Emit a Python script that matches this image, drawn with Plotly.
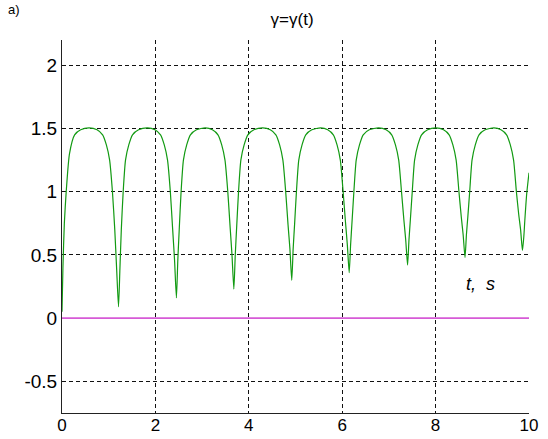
import plotly.graph_objects as go

# time, s
t = [0.00, 0.02, 0.05, 0.09, 0.16, 0.27, 0.40, 0.58,
     0.75, 0.87, 0.95, 1.02, 1.08, 1.13, 1.17, 1.21, 1.24, 1.27, 1.31, 1.36, 1.43, 1.51, 1.64, 1.83,
     1.99, 2.11, 2.19, 2.26, 2.32, 2.37, 2.41, 2.45, 2.48, 2.51, 2.55, 2.60, 2.67, 2.75, 2.88, 3.07,
     3.22, 3.34, 3.42, 3.49, 3.55, 3.60, 3.64, 3.68, 3.71, 3.74, 3.78, 3.83, 3.90, 3.98, 4.11, 4.30,
     4.46, 4.58, 4.66, 4.73, 4.79, 4.84, 4.88, 4.92, 4.95, 4.98, 5.02, 5.07, 5.14, 5.22, 5.35, 5.54,
     5.69, 5.81, 5.89, 5.96, 6.02, 6.07, 6.11, 6.15, 6.18, 6.21, 6.25, 6.30, 6.37, 6.45, 6.58, 6.78,
     6.94, 7.06, 7.14, 7.21, 7.27, 7.32, 7.36, 7.40, 7.43, 7.46, 7.50, 7.55, 7.62, 7.70, 7.83, 8.01,
     8.17, 8.29, 8.37, 8.44, 8.50, 8.55, 8.59, 8.63, 8.66, 8.69, 8.73, 8.78, 8.85, 8.93, 9.06, 9.25,
     9.40, 9.52, 9.60, 9.67, 9.73, 9.78, 9.82, 9.86, 9.89, 9.91, 9.95, 10.00]

# gamma values
gamma = [0.05, 0.40, 0.75, 1.00, 1.30, 1.45, 1.49, 1.505,
         1.49, 1.45, 1.37, 1.25, 1.00, 0.70, 0.39, 0.09, 0.39, 0.70, 1.00, 1.25, 1.37, 1.45, 1.49, 1.505,
         1.49, 1.45, 1.37, 1.25, 1.00, 0.70, 0.46, 0.16, 0.46, 0.70, 1.00, 1.25, 1.37, 1.45, 1.49, 1.505,
         1.49, 1.45, 1.37, 1.25, 1.00, 0.72, 0.50, 0.23, 0.50, 0.72, 1.00, 1.25, 1.37, 1.45, 1.49, 1.505,
         1.49, 1.45, 1.37, 1.25, 1.00, 0.74, 0.55, 0.30, 0.55, 0.74, 1.00, 1.25, 1.37, 1.45, 1.49, 1.505,
         1.49, 1.45, 1.37, 1.25, 1.00, 0.76, 0.58, 0.36, 0.58, 0.76, 1.00, 1.25, 1.37, 1.45, 1.49, 1.505,
         1.49, 1.45, 1.37, 1.25, 1.00, 0.78, 0.62, 0.42, 0.62, 0.78, 1.00, 1.25, 1.37, 1.45, 1.49, 1.505,
         1.49, 1.45, 1.37, 1.25, 1.00, 0.80, 0.66, 0.48, 0.66, 0.80, 1.00, 1.25, 1.37, 1.45, 1.49, 1.505,
         1.49, 1.45, 1.37, 1.25, 1.00, 0.82, 0.70, 0.535, 0.65, 0.77, 0.98, 1.15]

zero_t = [0, 10]
zero_y = [0, 0]

x_ticks = [0, 2, 4, 6, 8, 10]
x_labels = ["0", "2", "4", "6", "8", "10"]
y_ticks = [-0.5, 0, 0.5, 1, 1.5, 2]
y_labels = ["-0.5", "0", "0.5", "1", "1.5", "2"]

FONT = "Liberation Sans, Arial, sans-serif"

fig = go.Figure()
fig.add_trace(go.Scatter(x=zero_t, y=zero_y, mode="lines",
                         line=dict(color="#d65ad6", width=1.6), hoverinfo="skip"))
fig.add_trace(go.Scatter(x=t, y=gamma, mode="lines",
                         line=dict(color="#129a12", width=1.2, shape="spline", smoothing=0.6)))

grid = dict(showgrid=True, gridcolor="#111111", gridwidth=1, griddash="4px,3px",
            zeroline=False, showline=True, linecolor="#222222", linewidth=1,
            ticks="", automargin=False)

fig.update_xaxes(range=[0, 10], tickvals=x_ticks, ticktext=x_labels,
                 tickfont=dict(family=FONT, size=17, color="black"), ticklabelstandoff=-3, **grid)
fig.update_yaxes(range=[-0.75, 2.2], tickvals=y_ticks, ticktext=y_labels,
                 tickfont=dict(family=FONT, size=19, color="black"), **grid)

fig.update_layout(
    width=548, height=439,
    margin=dict(l=62, r=19, t=40, b=26, autoexpand=False),
    paper_bgcolor="white", plot_bgcolor="white",
    showlegend=False,
    title=dict(text="γ=γ(t)", x=0.533, xanchor="center", y=1 - 19 / 439, yanchor="middle",
               yref="container", font=dict(family=FONT, size=17, color="black")),
    annotations=[
        dict(text="<i>t,\u00a0\u00a0s</i>", x=8.97, y=0.27, xref="x", yref="y",
             showarrow=False, font=dict(family=FONT, size=18, color="black")),
        dict(text="a)", x=(14 - 62) / 467, y=1 + 40 / 373, xref="paper", yref="paper",
             xanchor="center", yanchor="top", showarrow=False,
             font=dict(family=FONT, size=13, color="black")),
    ],
)

fig.write_html("out.html")
